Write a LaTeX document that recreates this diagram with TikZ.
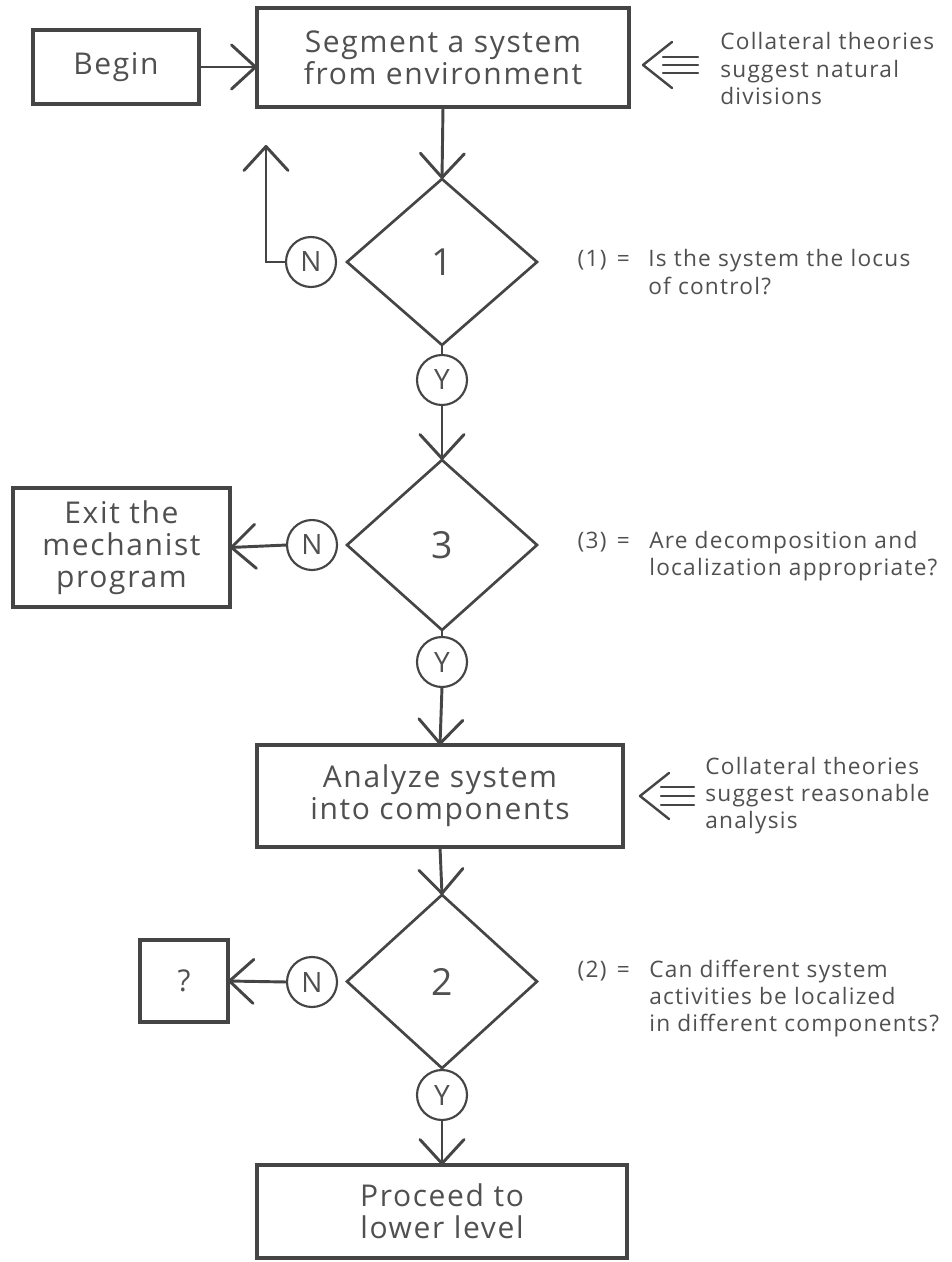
\documentclass[tikz,border=0pt]{standalone}
\usepackage{fontspec}
\setmainfont{Open Sans}[LetterSpace=5.5]
\usetikzlibrary{shapes.geometric,arrows.meta,calc}
\definecolor{ink}{HTML}{454545}
\definecolor{txt}{HTML}{505050}
\begin{document}
\begin{tikzpicture}[x=0.75pt,y=-0.75pt,
  box/.style={draw=ink,line width=2.4pt,align=center,inner sep=0pt,outer sep=0pt,text=txt,font=\fontsize{22.5}{24}\selectfont},
  dia/.style={diamond,draw=ink,line width=2pt,minimum width=142.5pt,inner sep=0pt,outer sep=0pt,text=txt,font=\fontsize{28}{30}\selectfont},
  yn/.style={circle,draw=ink,line width=1.6pt,minimum size=37.5pt,inner sep=0pt,outer sep=0pt,text=txt,font=\fontsize{21}{22}\selectfont},
  side/.style={inner sep=0pt,text=txt,font=\fontsize{17}{20.5}\selectfont},
  conn/.style={draw=ink,line width=2pt},
  arr/.style={draw=ink,line width=2.2pt,-{Straight Barb[length=18pt,width=33pt,round]}},
  tri/.style={draw=ink,line width=1.8pt,line cap=round,line join=round}]
\useasboundingbox (0,0) rectangle (951,1262);
\fill[white] (0,0) rectangle (951,1262);

% boxes
\node[box,minimum width=124.5pt,minimum height=55.5pt] (begin) at (116,67) {Begin};
\node[box,minimum width=279pt,minimum height=74.25pt] (seg) at (443,57.5) {Segment a system\\from environment};
\node[box,minimum width=162.75pt,minimum height=89.25pt] (exit) at (121.5,547.5) {Exit the\\mechanist\\program};
\node[box,minimum width=274.5pt,minimum height=76.5pt] (ana) at (440,796) {Analyze system\\into components};
\node[box,minimum width=66pt,minimum height=61.5pt] (qm) at (184,981) {?};
\node[box,minimum width=277.5pt,minimum height=69.75pt] (proc) at (442,1211.5) {Proceed to\\lower level};

% diamonds
\node[dia,minimum height=124.5pt] (d1) at (442,262) {1};
\node[dia,minimum height=127.5pt] (d3) at (442,545) {3};
\node[dia,minimum height=130pt] (d2) at (442,981.5) {2};

% N / Y circles
\node[yn] (n1) at (311,262) {N};
\node[yn] (n3) at (312,545) {N};
\node[yn] (n2) at (312,982) {N};
\node[yn] (y1) at (442,380) {Y};
\node[yn] (y3) at (442,662) {Y};
\node[yn] (y2) at (442,1095) {Y};

% connectors
\draw[arr] (begin.east) -- (begin.east -| seg.west);
\draw[arr] (seg.south) -- (d1.north);
\coordinate (up1) at (266,145);
\draw[arr] (n1.west) -| (up1);
\draw[conn] (d1.south) -- (y1.north);
\draw[arr] (y1.south) -- (d3.north);
\draw[arr] (n3.west) -- (exit.east);
\draw[conn] (d3.south) -- (y3.north);
\draw[arr] (y3.south) -- (ana.north);
\draw[arr] (ana.south) -- (d2.north);
\draw[arr] (n2.west) -- (qm.east);
\draw[conn] (d2.south) -- (y2.north);
\draw[arr] (y2.south) -- (proc.north);

% triple arrows
\coordinate (t1) at (643,65);
\draw[tri] ($(t1)+(29,-23)$) -- (t1) -- ($(t1)+(29,23)$);
\draw[tri] ($(t1)+(20,-8)$) -- ($(t1)+(55,-8)$);
\draw[tri] ($(t1)+(20,0)$) -- ($(t1)+(55,0)$);
\draw[tri] ($(t1)+(20,8)$) -- ($(t1)+(55,8)$);
\coordinate (t2) at (640,796);
\draw[tri] ($(t2)+(29,-23)$) -- (t2) -- ($(t2)+(29,23)$);
\draw[tri] ($(t2)+(21,-9)$) -- ($(t2)+(54,-9)$);
\draw[tri] ($(t2)+(21,0)$) -- ($(t2)+(54,0)$);
\draw[tri] ($(t2)+(21,9)$) -- ($(t2)+(54,9)$);

% side texts
\node[side,anchor=base west] (c1) at (720,50) {\begin{tabular}[t]{@{}l@{}}Collateral theories\\suggest natural\\divisions\end{tabular}};
\node[side,anchor=base west] (c2) at (705,774) {\begin{tabular}[t]{@{}l@{}}Collateral theories\\suggest reasonable\\analysis\end{tabular}};

\node[side,anchor=base east] (e1) at (630,267) {(1)\hspace{0.45em}=};
\node[side,anchor=base west] (q1) at (648,267) {\begin{tabular}[t]{@{}l@{}}Is the system the locus\\of control?\end{tabular}};
\node[side,anchor=base east] (e3) at (630,548) {(3)\hspace{0.45em}=};
\node[side,anchor=base west] (q3) at (649,548) {\begin{tabular}[t]{@{}l@{}}Are decomposition and\\localization appropriate?\end{tabular}};
\node[side,anchor=base east] (e2) at (630,977) {(2)\hspace{0.45em}=};
\node[side,anchor=base west] (q2) at (649,977) {\begin{tabular}[t]{@{}l@{}}Can different system\\activities be localized\\in different components?\end{tabular}};
\end{tikzpicture}
\end{document}
